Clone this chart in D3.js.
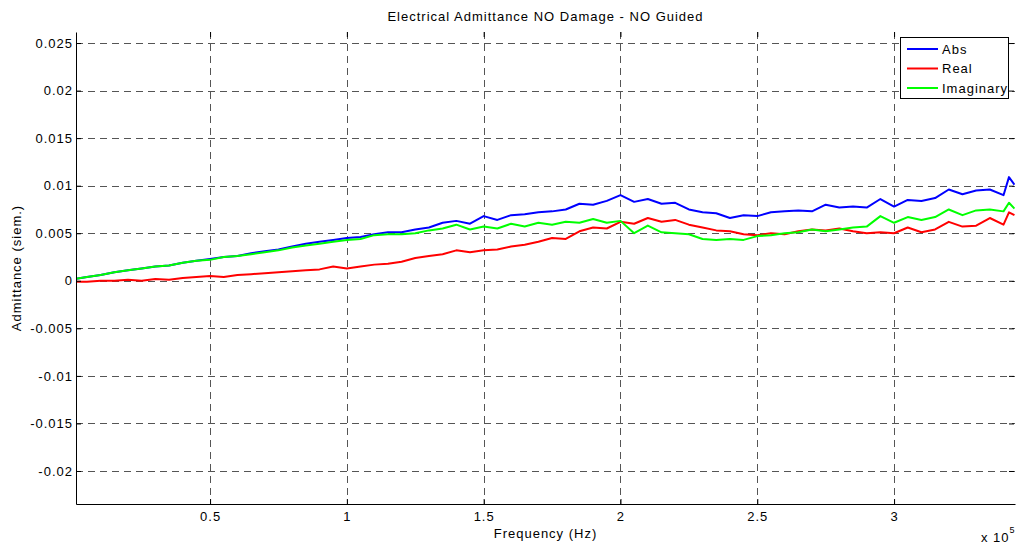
<html>
  <meta charset="utf-8" />
  <script src="https://d3js.org/d3.v7.min.js"></script>
  <style>
    body { margin: 0; background: #fff; }
    text { font-family: "Liberation Sans", Arial, sans-serif; letter-spacing: 1px; }
  </style>
  <body>
    <svg width="1017" height="546" id="svg_plot"></svg>

    <script>
      // frequency samples (Hz)
      const freq = [
        1000, 5000, 10000, 15000, 20000, 25000, 30000, 35000, 40000, 45000,
        50000, 55000, 60000, 65000, 70000, 75000, 80000, 85000, 90000, 95000,
        100000, 105000, 110000, 115000, 120000, 125000, 130000, 135000, 140000, 145000,
        150000, 155000, 160000, 165000, 170000, 175000, 180000, 185000, 190000, 195000,
        200000, 205000, 210000, 215000, 220000, 225000, 230000, 235000, 240000, 245000,
        250000, 255000, 260000, 265000, 270000, 275000, 280000, 285000, 290000, 295000,
        300000, 305000, 310000, 315000, 320000, 325000, 330000, 335000, 340000, 342000, 344000
      ];

      // admittance values, in 1e-3 siemens
      const absVals = [
        0.2, 0.4, 0.6, 0.9, 1.1, 1.3, 1.5, 1.6, 1.9, 2.1,
        2.3, 2.5, 2.6, 2.9, 3.1, 3.3, 3.6, 3.9, 4.1, 4.3,
        4.5, 4.6, 4.9, 5.1, 5.1, 5.4, 5.6, 6.1, 6.3, 6.0,
        6.8, 6.4, 6.9, 7.0, 7.2, 7.3, 7.5, 8.1, 8.0, 8.4,
        9.0, 8.3, 8.6, 8.1, 8.2, 7.5, 7.2, 7.1, 6.6, 6.9,
        6.8, 7.2, 7.3, 7.4, 7.3, 8.0, 7.7, 7.8, 7.7, 8.6,
        7.8, 8.5, 8.4, 8.7, 9.6, 9.1, 9.5, 9.6, 9.0, 10.9, 10.1
      ];
      const realVals = [
        -0.1, -0.1, 0.0, 0.0, 0.1, 0.0, 0.2, 0.1, 0.3, 0.4,
        0.5, 0.4, 0.6, 0.7, 0.8, 0.9, 1.0, 1.1, 1.2, 1.5,
        1.3, 1.5, 1.7, 1.8, 2.0, 2.4, 2.6, 2.8, 3.2, 3.0,
        3.2, 3.3, 3.6, 3.8, 4.1, 4.5, 4.4, 5.2, 5.6, 5.5,
        6.2, 6.0, 6.6, 6.2, 6.4, 5.9, 5.6, 5.3, 5.2, 4.9,
        4.8, 5.0, 4.9, 5.2, 5.4, 5.3, 5.5, 5.2, 5.0, 5.1,
        5.0, 5.6, 5.1, 5.4, 6.2, 5.7, 5.8, 6.6, 5.9, 7.2, 6.9
      ];
      const imagVals = [
        0.2, 0.4, 0.6, 0.9, 1.1, 1.3, 1.5, 1.6, 1.9, 2.1,
        2.2, 2.5, 2.6, 2.8, 3.0, 3.2, 3.5, 3.7, 3.9, 4.1,
        4.3, 4.4, 4.8, 4.9, 4.9, 5.0, 5.3, 5.5, 5.9, 5.4,
        5.7, 5.5, 6.0, 5.7, 6.1, 5.9, 6.2, 6.1, 6.5, 6.1,
        6.3, 5.0, 5.8, 5.1, 5.0, 4.9, 4.4, 4.3, 4.4, 4.3,
        4.7, 4.8, 5.0, 5.1, 5.4, 5.2, 5.4, 5.6, 5.7, 6.8,
        6.1, 6.7, 6.4, 6.7, 7.5, 6.9, 7.4, 7.5, 7.3, 8.2, 7.6
      ];

      const seriesNames = ["Abs", "Real", "Imaginary"];
      const seriesColors = ["#0000ff", "#ff0000", "#00ff00"];

      const xTicks = [50000, 100000, 150000, 200000, 250000, 300000];
      const xTickLabels = ["0.5", "1", "1.5", "2", "2.5", "3"];
      const yTicks = [-0.02, -0.015, -0.01, -0.005, 0, 0.005, 0.01, 0.015, 0.02, 0.025];
      const yTickLabels = ["-0.02", "-0.015", "-0.01", "-0.005", "0", "0.005", "0.01", "0.015", "0.02", "0.025"];

      const plotLeft = 76, plotRight = 1015, plotTop = 32, plotBottom = 504;

      const svg = d3.select("#svg_plot");

      const xScale = d3.scaleLinear().domain([1000, 344200]).range([plotLeft, plotRight]);
      const yScale = d3.scaleLinear().domain([-0.02347, 0.02616]).range([plotBottom, plotTop]);

      // grid
      const grid = svg.append("g")
        .attr("stroke", "#555")
        .attr("stroke-width", 1)
        .attr("stroke-dasharray", "7,5");
      grid.selectAll(".vgrid")
        .data(xTicks)
        .enter()
        .append("line")
        .attr("x1", (d) => Math.round(xScale(d)) + 0.5)
        .attr("x2", (d) => Math.round(xScale(d)) + 0.5)
        .attr("y1", plotTop)
        .attr("y2", plotBottom);
      grid.selectAll(".hgrid")
        .data(yTicks)
        .enter()
        .append("line")
        .attr("y1", (d) => Math.round(yScale(d)) + 0.5)
        .attr("y2", (d) => Math.round(yScale(d)) + 0.5)
        .attr("x1", plotLeft)
        .attr("x2", plotRight);

      // curves
      svg.append("clipPath")
        .attr("id", "plotClip")
        .append("rect")
        .attr("x", plotLeft)
        .attr("y", plotTop)
        .attr("width", plotRight - plotLeft)
        .attr("height", plotBottom - plotTop);

      const line = d3.line()
        .x((d) => xScale(d[0]))
        .y((d) => yScale(d[1] * 1e-3));

      const allVals = [absVals, realVals, imagVals];
      allVals.forEach(function (vals, i) {
        svg.append("path")
          .datum(freq.map((f, j) => [f, vals[j]]))
          .attr("clip-path", "url(#plotClip)")
          .attr("fill", "none")
          .attr("stroke", seriesColors[i])
          .attr("stroke-width", 2)
          .attr("stroke-linejoin", "round")
          .attr("d", line);
      });

      // axes
      const xAxis = d3.axisBottom(xScale)
        .tickValues(xTicks)
        .tickFormat((d, i) => xTickLabels[i])
        .tickSizeInner(-5)
        .tickSizeOuter(0)
        .tickPadding(8);
      svg.append("g")
        .attr("transform", `translate(0, ${plotBottom})`)
        .call(xAxis);

      const yAxis = d3.axisLeft(yScale)
        .tickValues(yTicks)
        .tickFormat((d, i) => yTickLabels[i])
        .tickSizeInner(-5)
        .tickSizeOuter(0)
        .tickPadding(3);
      svg.append("g")
        .attr("transform", `translate(${plotLeft}, 0)`)
        .call(yAxis);

      // mirrored ticks on top and right
      svg.append("g")
        .attr("transform", `translate(0, ${plotTop})`)
        .call(d3.axisTop(xScale).tickValues(xTicks).tickFormat("").tickSizeInner(-5).tickSizeOuter(0))
        .select(".domain").remove();
      svg.append("g")
        .attr("transform", `translate(${plotRight - 1}, 0)`)
        .call(d3.axisRight(yScale).tickValues(yTicks).tickFormat("").tickSizeInner(-5).tickSizeOuter(0))
        .select(".domain").remove();

      svg.selectAll(".tick line").attr("stroke", "#000");
      svg.selectAll(".domain").attr("stroke", "#000");
      svg.selectAll(".tick text")
        .attr("font-family", "Liberation Sans, Arial, sans-serif")
        .attr("font-size", 13)
        .attr("fill", "#000");

      // titles
      svg.append("text")
        .attr("x", (plotLeft + plotRight) / 2)
        .attr("y", 21)
        .attr("text-anchor", "middle")
        .attr("font-size", 13)
        .text("Electrical Admittance NO Damage - NO Guided");

      svg.append("text")
        .attr("x", (plotLeft + plotRight) / 2)
        .attr("y", 538)
        .attr("text-anchor", "middle")
        .attr("font-size", 13)
        .text("Frequency (Hz)");

      svg.append("text")
        .attr("transform", `translate(21, ${(plotTop + plotBottom) / 2}) rotate(-90)`)
        .attr("text-anchor", "middle")
        .attr("font-size", 13)
        .text("Admittance (siem.)");

      const expo = svg.append("text")
        .attr("x", 981)
        .attr("y", 542)
        .attr("font-size", 13);
      expo.append("tspan").text("x 10");
      expo.append("tspan").attr("dy", -9).attr("font-size", 9).text("5");

      // legend
      const legend = svg.append("g").attr("transform", "translate(900, 37)");
      legend.append("rect")
        .attr("x", 0.5)
        .attr("y", 0.5)
        .attr("width", 108)
        .attr("height", 61)
        .attr("fill", "#fff")
        .attr("stroke", "#000");
      seriesNames.forEach(function (name, i) {
        const yy = 12 + i * 19.5;
        legend.append("line")
          .attr("x1", 7)
          .attr("x2", 38)
          .attr("y1", yy)
          .attr("y2", yy)
          .attr("stroke", seriesColors[i])
          .attr("stroke-width", 2);
        legend.append("text")
          .attr("x", 42)
          .attr("y", yy + 4.5)
          .attr("font-size", 13)
          .text(name);
      });
    </script>
  </body>
</html>
